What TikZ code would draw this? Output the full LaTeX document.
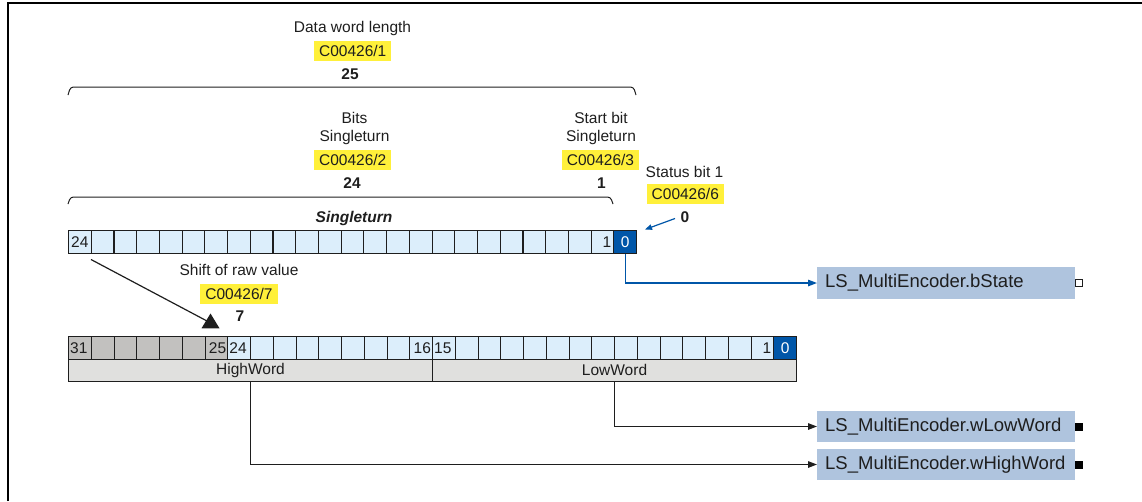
\documentclass[tikz,border=0pt]{standalone}
\usepackage{fontspec}
\setmainfont{Liberation Sans}
\usetikzlibrary{arrows.meta}
\definecolor{hl}{HTML}{FFF03A}
\definecolor{cellblue}{HTML}{DCEEFB}
\definecolor{darkblue}{HTML}{0056A8}
\definecolor{cellgray}{HTML}{C2C1BF}
\definecolor{wordgray}{HTML}{E0E0DE}
\definecolor{boxblue}{HTML}{AFC4DE}
\definecolor{ink}{HTML}{1E1E1E}
\begin{document}
\begin{tikzpicture}[x=1pt,y=-1pt,
  lbl/.style={font=\fontsize{15.5}{18}\selectfont, text=ink, inner sep=0pt},
  bnum/.style={lbl, font=\bfseries\fontsize{15.5}{18}\selectfont},
  code/.style={lbl, fill=hl, minimum height=20pt, inner xsep=5pt},
  cellbox/.style={draw=ink, line width=1.1pt, minimum height=23pt, inner sep=0pt, anchor=north west, fill=cellblue},
  topcell/.style={cellbox, minimum width=22.72pt},
  botcell/.style={cellbox, minimum width=22.75pt, minimum height=22.5pt},
  wordbox/.style={draw=ink, line width=1.1pt, fill=wordgray, minimum width=364pt, minimum height=22.5pt, inner sep=0pt, anchor=north west, font=\fontsize{15.5}{18}\selectfont, text=ink},
  outbox/.style={fill=boxblue, minimum width=258pt, minimum height=31.5pt, text width=242pt, align=left, inner xsep=8pt, inner ysep=0pt, anchor=west, font=\fontsize{18.5}{22}\selectfont, text=ink},
  conn/.style={ink, line width=1.3pt, -{Triangle[length=9pt,width=6.5pt]}},
  bconn/.style={darkblue, line width=1.3pt, -{Triangle[length=9pt,width=6.5pt]}},
  brace/.style={ink, line width=1pt, rounded corners=3pt}
]
\useasboundingbox (0,0) rectangle (1142,501);
% frame
\draw[black, line width=2pt] (8,501) -- (8,3) -- (1142,3);

% top labels
\node[lbl] (dwl) at (352.5,28) {Data word length};
\node[code] (c1) at (352.7,51.3) {C00426/1};
\node[bnum] (n25) at (350,74) {25};
\draw[brace] (68,95) -- (70.5,87) -- (633.5,87) -- (636,95);

\node[lbl, align=center] (bits) at (354.5,128) {Bits\\Singleturn};
\node[code] (c2) at (352.7,160.3) {C00426/2};
\node[bnum] (n24) at (352,183) {24};

\node[lbl, align=center] (sbit) at (601,128) {Start bit\\Singleturn};
\node[code] (c3) at (600.5,160.3) {C00426/3};
\node[bnum] (n1) at (601.5,183) {1};

\node[lbl] (stat) at (684.5,171.5) {Status bit 1};
\node[code] (c6) at (685.3,194) {C00426/6};
\node[bnum] (n0) at (685,217) {0};

\draw[brace] (68,204) -- (70.5,197) -- (610.5,197) -- (613,204);
\node[lbl, font=\bfseries\itshape\fontsize{15.5}{18}\selectfont] (st) at (354,218) {Singleturn};

% singleturn register
\foreach \k in {0,...,24} {
  \node[topcell] (t\k) at ({68+(24-\k)*22.72},230) {};
}
\node[topcell, fill=darkblue] (t0) at ({68+24*22.72},230) {};
\node[lbl, anchor=west] at ([xshift=3pt]t24.west) {24};
\node[lbl, anchor=east] at ([xshift=-3pt]t1.east) {1};
\node[lbl, text=white] at (t0.center) {0};

% status arrow
\coordinate (sta) at (675,218.5);
\coordinate (ste) at (645,229.5);
\draw[darkblue, line width=1.2pt, -{Triangle[length=7pt,width=5.5pt]}] (sta) -- (ste);

% shift of raw value
\node[lbl] (shift) at (239,270) {Shift of raw value};
\node[code] (c7) at (239,294) {C00426/7};
\node[bnum] (n7) at (240,316) {7};
\coordinate (shs) at (91,259.5);
\coordinate (she) at (207,321);
\draw[ink, line width=1.2pt] (shs) -- (she);
\fill[ink] (210.5,313.5) -- (219.5,328.3) -- (201.5,328.3) -- cycle;

% 32-bit register
\foreach \k in {0,...,31} {
  \node[botcell] (b\k) at ({68+(31-\k)*22.75},336) {};
}
\foreach \k in {25,...,31} {
  \node[botcell, fill=cellgray] (b\k) at ({68+(31-\k)*22.75},336) {};
}
\node[botcell, fill=darkblue] (b0) at ({68+31*22.75},336) {};
\node[lbl, anchor=west] at ([xshift=2pt]b31.west) {31};
\node[lbl, anchor=east] at ([xshift=-2pt]b25.east) {25};
\node[lbl, anchor=west] at ([xshift=2pt]b24.west) {24};
\node[lbl, anchor=east] at ([xshift=-2pt]b16.east) {16};
\node[lbl, anchor=west] at ([xshift=2pt]b15.west) {15};
\node[lbl, anchor=east] at ([xshift=-3pt]b1.east) {1};
\node[lbl, text=white] at (b0.center) {0};

\node[wordbox] (hw) at (68,358.5) {HighWord};
\node[wordbox] (lw) at (432,358.5) {LowWord};

% outputs
\node[outbox] (bstate) at (817,283) {LS\_MultiEncoder.bState};
\node[outbox] (wlow) at (817,426.5) {LS\_MultiEncoder.wLowWord};
\node[outbox] (whigh) at (817,464.5) {LS\_MultiEncoder.wHighWord};
\node[draw=ink, fill=white, line width=1pt, minimum size=7pt, inner sep=0pt] (sqb) at (1078.5,283) {};
\node[fill=black, minimum size=8pt, inner sep=0pt] (sql) at (1078.5,426.5) {};
\node[fill=black, minimum size=8pt, inner sep=0pt] (sqh) at (1078.5,464.5) {};

\draw[bconn] (t0.south) |- (bstate.west);
\draw[conn] (lw.south) |- (wlow.west);
\draw[conn] (hw.south) |- (whigh.west);
\end{tikzpicture}
\end{document}
